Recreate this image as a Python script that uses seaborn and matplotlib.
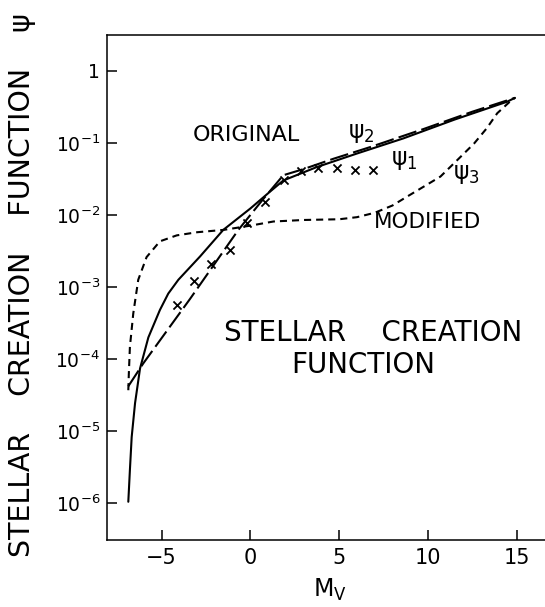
import matplotlib
matplotlib.use("Agg")
import matplotlib.pyplot as plt
import seaborn as sns
from matplotlib.ticker import NullLocator

# Absolute visual magnitude M_V and the stellar creation function psi
psi1_mv = [-6.88, -6.79, -6.69, -6.5, -6.22, -5.75, -5.1, -4.63, -4.06, -2.84,
           -1.53, 0.0, 1.1, 1.85, 3.73, 6.0, 8.61, 11.5, 14.44, 14.9]
psi1_val = [1.05e-6, 2.9e-6, 8.3e-6, 2.45e-5, 7.4e-5, 2.0e-4, 4.8e-4, 8.1e-4,
            1.26e-3, 2.65e-3, 6.2e-3, 1.23e-2, 2.1e-2, 3.0e-2, 4.6e-2, 7.1e-2,
            0.115, 0.21, 0.37, 0.42]

psi2_mv = [-6.88, -6.04, -3.41, -0.68, 0.72, 1.85, 2.97, 4.67, 6.73, 9.74, 12.5, 14.9]
psi2_val = [4.2e-5, 8.7e-5, 6.8e-4, 6.2e-3, 1.66e-2, 3.55e-2, 4.3e-2, 6.0e-2,
            8.7e-2, 0.155, 0.27, 0.42]

psi3_mv = [-6.88, -6.85, -6.79, -6.6, -6.32, -5.85, -5.1, -4.15, -3.0, -1.5, 0.0,
           1.3, 3.0, 5.0, 6.0, 7.0, 8.0, 8.8, 9.8, 10.7, 11.6, 12.6, 13.3, 13.9,
           14.6, 14.9]
psi3_val = [3.7e-5, 6.3e-5, 1.48e-4, 4.3e-4, 1.26e-3, 2.6e-3, 4.3e-3, 5.2e-3,
            5.75e-3, 6.2e-3, 7.1e-3, 8.1e-3, 8.5e-3, 8.7e-3, 9.3e-3, 1.07e-2,
            1.35e-2, 1.78e-2, 2.5e-2, 3.4e-2, 5.6e-2, 9.8e-2, 0.158, 0.257,
            0.37, 0.42]

obs_mv = [-4.15, -3.2, -2.2, -1.17, -0.2, 0.82, 1.87, 2.83, 3.82, 4.86, 5.89, 6.92]
obs_val = [5.6e-4, 1.2e-3, 2.1e-3, 3.3e-3, 7.6e-3, 1.5e-2, 3.0e-2, 4.0e-2,
           4.5e-2, 4.5e-2, 4.2e-2, 4.2e-2]

x_ticks = [-5, 0, 5, 10, 15]
x_tick_labels = ["\u22125", "0", "5", "10", "15"]
y_ticks = [1, 1e-1, 1e-2, 1e-3, 1e-4, 1e-5, 1e-6]
y_tick_labels = ["1", r"$\mathregular{10^{-1}}$", r"$\mathregular{10^{-2}}$",
                 r"$\mathregular{10^{-3}}$", r"$\mathregular{10^{-4}}$",
                 r"$\mathregular{10^{-5}}$", r"$\mathregular{10^{-6}}$"]

sns.set_style("ticks")
plt.rcParams["font.family"] = ["DejaVu Sans"]
plt.rcParams["mathtext.fontset"] = "dejavusans"
plt.rcParams["text.color"] = "black"
plt.rcParams["axes.labelcolor"] = "black"

W, H = 545, 607
fig = plt.figure(figsize=(W / 100, H / 100), dpi=100)
ax = fig.add_axes([107 / W, (H - 540) / H, (W - 107) / W, (540 - 35) / H])

line_kw = dict(color="black", linewidth=1.5, estimator=None, sort=False, ax=ax)
sns.lineplot(x=psi1_mv, y=psi1_val, linestyle="-", **line_kw)
sns.lineplot(x=psi2_mv, y=psi2_val, linestyle=(0, (9, 2.5)), **line_kw)
sns.lineplot(x=psi3_mv, y=psi3_val, linestyle=(0, (3.4, 2.4)), **line_kw)
sns.scatterplot(x=obs_mv, y=obs_val, marker="x", s=34, color="black",
                linewidth=1.3, ax=ax, zorder=3)

ax.set_yscale("log")
ax.set_xlim(-8.08, 16.59)
ax.set_ylim(10 ** -6.509, 10 ** 0.495)
ax.set_xticks(x_ticks, labels=x_tick_labels)
ax.set_yticks(y_ticks, labels=y_tick_labels)
ax.yaxis.set_minor_locator(NullLocator())
ax.xaxis.set_minor_locator(NullLocator())
ax.tick_params(axis="both", direction="in", length=7, width=1.1,
               labelsize=15, colors="black")
ax.tick_params(axis="y", pad=5, labelsize=13.5)
ax.tick_params(axis="x", pad=6)

for side in ("left", "top", "bottom"):
    ax.spines[side].set_linewidth(1.1)
    ax.spines[side].set_color("black")
ax.spines["right"].set_visible(False)

ax.set_xlabel(r"$\mathregular{M_V}$", fontsize=17, va="center", color="black")
ax.xaxis.set_label_coords(330 / W, 1 - 590 / H, transform=fig.transFigure)
ax.set_ylabel("STELLAR    CREATION    FUNCTION    \u03c8", fontsize=20.5,
              va="center", ha="center", color="black")
ax.yaxis.set_label_coords(22 / W, 1 - 285 / H, transform=fig.transFigure)

txt = dict(ha="center", va="center", color="black")
ax.text(-0.22, 0.128, "ORIGINAL", fontsize=16, **txt)
ax.text(9.97, 7.95e-3, "MODIFIED", fontsize=15.5, **txt)
ax.text(6.23, 0.137, "$\\mathregular{\u03c8_2}$", fontsize=17, **txt)
ax.text(8.65, 0.0575, "$\\mathregular{\u03c8_1}$", fontsize=17, **txt)
ax.text(12.14, 0.037, "$\\mathregular{\u03c8_3}$", fontsize=17, **txt)
ax.text(6.93, 2.3e-4, "STELLAR    CREATION", fontsize=20, **txt)
ax.text(6.34, 8.3e-5, "FUNCTION", fontsize=20, **txt)

fig.savefig("out.png", dpi=100)
